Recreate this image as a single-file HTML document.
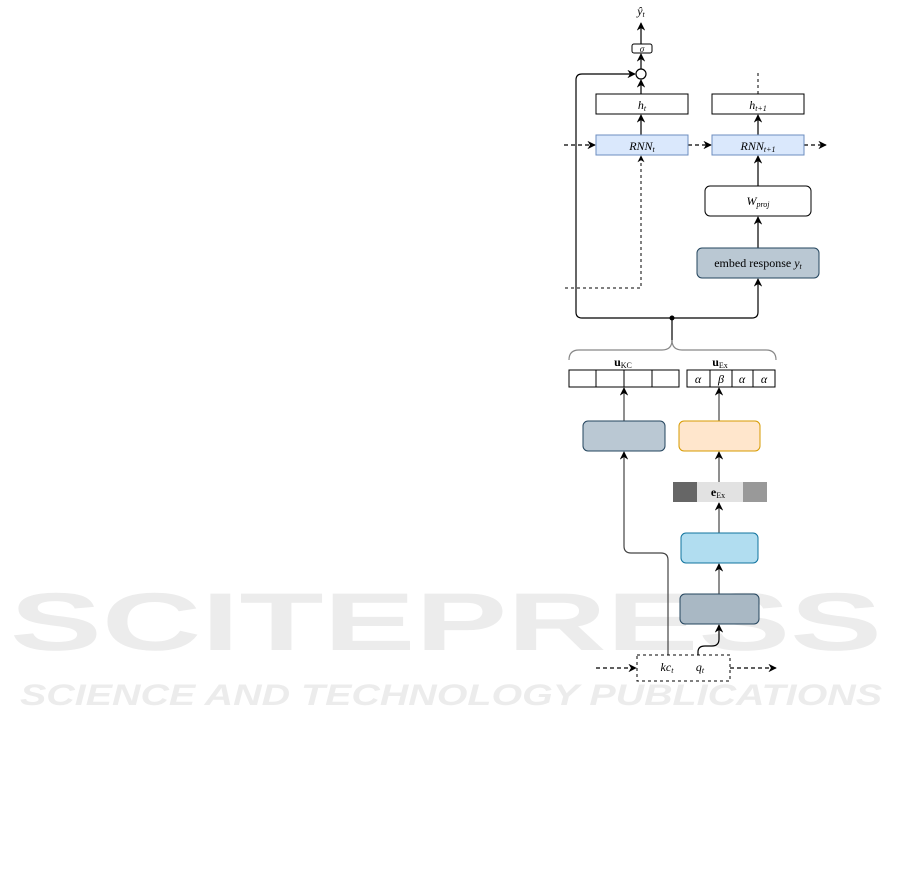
<!DOCTYPE html>
<html><head><meta charset="utf-8"><style>body{margin:0;background:#fff}svg{display:block}</style></head><body>
<svg width="901" height="881" viewBox="0 0 901 881" xmlns="http://www.w3.org/2000/svg" font-family="Liberation Serif, serif">
<defs><marker id="a" viewBox="0 0 10 10" refX="9" refY="5" markerWidth="7" markerHeight="7" orient="auto"><path d="M0,0 L10,5 L0,10 L3,5 z" fill="#000"/></marker></defs>
<g fill="#ececec" font-family="Liberation Sans, sans-serif" font-weight="bold">
<text x="10" y="650" font-size="82" textLength="872" lengthAdjust="spacingAndGlyphs">SCITEPRESS</text>
<text x="20" y="705" font-size="30" textLength="862" lengthAdjust="spacingAndGlyphs" font-style="italic">SCIENCE AND TECHNOLOGY PUBLICATIONS</text>
</g>
<g stroke="#000" fill="none" stroke-width="1.2">
<line x1="641" y1="44" x2="641" y2="23" marker-end="url(#a)"/>
<line x1="641" y1="69" x2="641" y2="54" marker-end="url(#a)"/>
<line x1="641" y1="94" x2="641" y2="80" marker-end="url(#a)"/>
<line x1="641" y1="135" x2="641" y2="115" marker-end="url(#a)"/>
<line x1="758" y1="135" x2="758" y2="115" marker-end="url(#a)"/>
<line x1="758" y1="94" x2="758" y2="73" stroke-dasharray="3,3" stroke-width="1"/>
<line x1="758" y1="186" x2="758" y2="156" marker-end="url(#a)"/>
<line x1="758" y1="248" x2="758" y2="217" marker-end="url(#a)"/>
<line x1="564" y1="145" x2="595" y2="145" stroke-dasharray="4,3" marker-end="url(#a)"/>
<line x1="688" y1="145" x2="711" y2="145" stroke-dasharray="4,3" marker-end="url(#a)"/>
<line x1="804" y1="145" x2="826" y2="145" stroke-dasharray="4,3" marker-end="url(#a)"/>
<path d="M565,288 H641 V156" stroke-dasharray="3,3" stroke-width="1" marker-end="url(#a)"/>
<path d="M672,318 H582 Q576,318 576,312 V80 Q576,74 582,74 H635" marker-end="url(#a)"/>
<path d="M672,318 H752 Q758,318 758,312 V279" marker-end="url(#a)"/>
<line x1="672" y1="318" x2="672" y2="342"/>
<path d="M569,360 Q569,350 579,350 H662 Q672,350 672,340 Q672,350 682,350 H766 Q776,350 776,360" stroke="#888"/>
<line x1="624" y1="421" x2="624" y2="388" marker-end="url(#a)" stroke="#444"/>
<line x1="719" y1="421" x2="719" y2="388" marker-end="url(#a)" stroke="#444"/>
<line x1="719" y1="482" x2="719" y2="452" marker-end="url(#a)" stroke="#444"/>
<line x1="719" y1="533" x2="719" y2="503" marker-end="url(#a)" stroke="#444"/>
<line x1="719" y1="594" x2="719" y2="564" marker-end="url(#a)" stroke="#444"/>
<path d="M668,655 V560 Q668,553 661,553 H631 Q624,553 624,546 V452" marker-end="url(#a)" stroke="#444"/>
<path d="M698,655 V652 Q698,646 705,646 H712 Q719,646 719,639 V625" marker-end="url(#a)"/>
<line x1="596" y1="668" x2="636" y2="668" stroke-dasharray="4,3" marker-end="url(#a)"/>
<line x1="730" y1="668" x2="776" y2="668" stroke-dasharray="4,3" marker-end="url(#a)"/>
</g>
<circle cx="672" cy="318" r="2.5" fill="#000"/>
<circle cx="641" cy="74" r="5" fill="#fff" stroke="#000" stroke-width="1.2"/>
<rect x="632" y="44" width="20" height="9" rx="2" fill="#fff" stroke="#000"/>
<rect x="596" y="94" width="92" height="20" fill="#fff" stroke="#000"/>
<rect x="712" y="94" width="92" height="20" fill="#fff" stroke="#000"/>
<rect x="596" y="135" width="92" height="20" fill="#dae8fc" stroke="#6c8ebf"/>
<rect x="712" y="135" width="92" height="20" fill="#dae8fc" stroke="#6c8ebf"/>
<rect x="705" y="186" width="106" height="30" rx="5" fill="#fff" stroke="#000"/>
<rect x="697" y="248" width="122" height="30" rx="5" fill="#bac8d3" stroke="#23445d"/>
<g fill="#fff" stroke="#000">
<rect x="569" y="370" width="110" height="17"/>
<line x1="596" y1="370" x2="596" y2="387"/><line x1="624" y1="370" x2="624" y2="387"/><line x1="652" y1="370" x2="652" y2="387"/>
<rect x="687" y="370" width="88" height="17"/>
<line x1="710" y1="370" x2="710" y2="387"/><line x1="732" y1="370" x2="732" y2="387"/><line x1="753" y1="370" x2="753" y2="387"/>
</g>
<rect x="583" y="421" width="82" height="30" rx="5" fill="#bac8d3" stroke="#23445d"/>
<rect x="679" y="421" width="81" height="30" rx="5" fill="#ffe6cc" stroke="#d79b00"/>
<rect x="673" y="482" width="24" height="20" fill="#666"/>
<rect x="697" y="482" width="46" height="20" fill="#e2e2e2"/>
<rect x="743" y="482" width="24" height="20" fill="#999"/>
<rect x="681" y="533" width="77" height="30" rx="5" fill="#b1ddf0" stroke="#10739e"/>
<rect x="680" y="594" width="79" height="30" rx="5" fill="#a9b8c4" stroke="#23445d"/>
<rect x="637" y="655" width="93" height="26" fill="#fff" stroke="#000" stroke-dasharray="3,3"/>
<g font-size="12" text-anchor="middle" fill="#000">
<text x="641" y="15" font-style="italic">ŷ<tspan font-size="8" dy="2">t</tspan></text>
<text x="642" y="52" font-size="9" font-style="italic">σ</text>
<text x="642" y="109" font-style="italic">h<tspan font-size="8" dy="2">t</tspan></text>
<text x="758" y="109" font-style="italic">h<tspan font-size="8" dy="2">t+1</tspan></text>
<text x="642" y="150" font-style="italic">RNN<tspan font-size="8" dy="2">t</tspan></text>
<text x="758" y="150" font-style="italic">RNN<tspan font-size="8" dy="2">t+1</tspan></text>
<text x="758" y="205" font-style="italic">W<tspan font-size="8" dy="2">proj</tspan></text>
<text x="758" y="267">embed response <tspan font-style="italic">y</tspan><tspan font-size="8" dy="2" font-style="italic">t</tspan></text>
<text x="623" y="366" font-weight="bold">u<tspan font-size="8" dy="2" font-weight="normal">KC</tspan></text>
<text x="720" y="366" font-weight="bold">u<tspan font-size="8" dy="2" font-weight="normal">Ex</tspan></text>
<text x="698" y="383" font-style="italic">α</text><text x="721" y="383" font-style="italic">β</text>
<text x="742" y="383" font-style="italic">α</text><text x="764" y="383" font-style="italic">α</text>
<text x="718" y="496" font-weight="bold">e<tspan font-size="8" dy="2" font-weight="normal">Ex</tspan></text>
<text x="667" y="671" font-style="italic">kc<tspan font-size="8" dy="2">t</tspan></text>
<text x="700" y="671" font-style="italic">q<tspan font-size="8" dy="2">t</tspan></text>
</g>
</svg>
</body></html>
